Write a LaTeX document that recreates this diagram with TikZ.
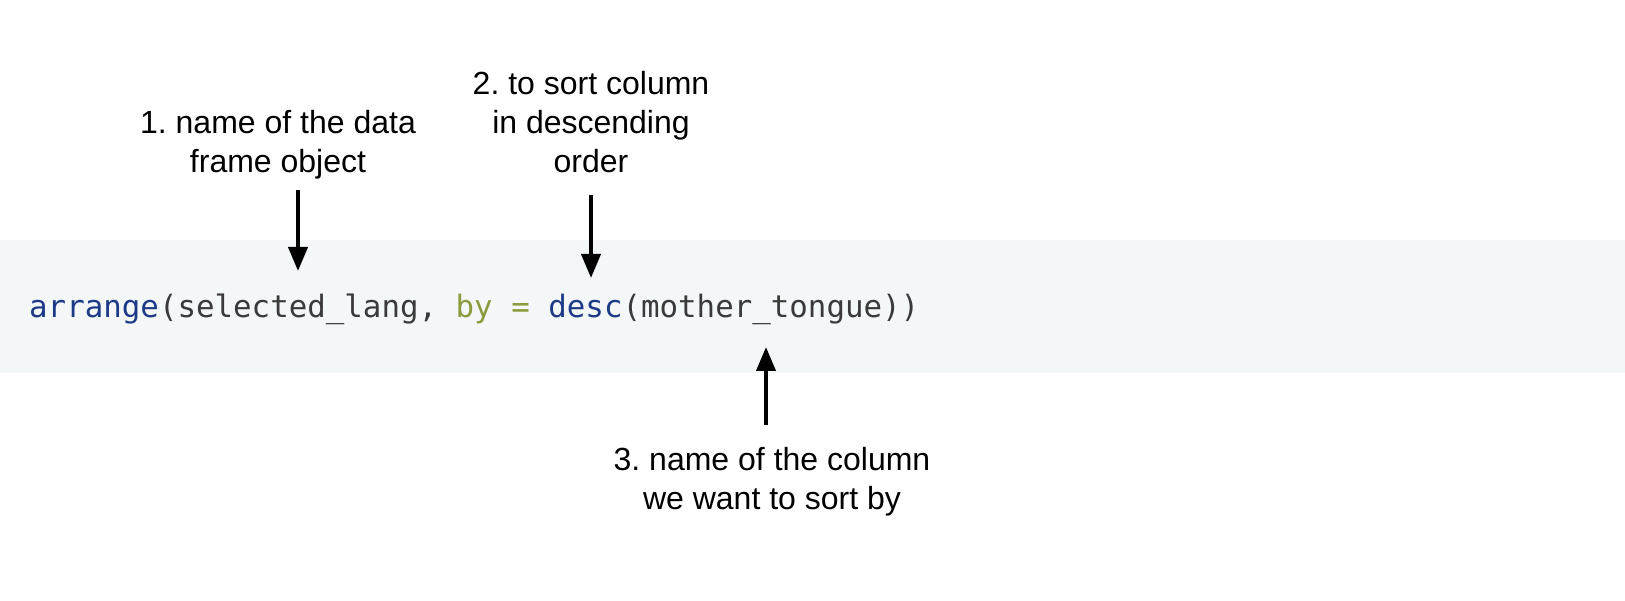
\documentclass[tikz,border=0pt]{standalone}
\usepackage{fontspec}
\setmainfont{Liberation Sans}
\newfontfamily\codefont{DejaVu Sans Mono}
\usetikzlibrary{arrows.meta}
\frenchspacing
\definecolor{bandbg}{HTML}{F4F7F8}
\definecolor{kwblue}{HTML}{1D3A87}
\definecolor{argolive}{HTML}{8A9A3C}
\definecolor{codegray}{HTML}{3A3A3A}
\tikzset{
  lbl/.style={font=\fontsize{32}{39}\selectfont, align=center, inner sep=0pt, text=black},
  pointer/.style={line width=4pt, -{Triangle[length=24pt,width=19pt]}},
  code/.style={font=\codefont\fontsize{30.8}{36}\selectfont, inner sep=0pt, anchor=base west, text=codegray}
}
\begin{document}
\begin{tikzpicture}[x=1pt,y=1pt]
\frenchspacing
\useasboundingbox (0,0) rectangle (1625,601);
\fill[bandbg] (0,361) rectangle (1625,228);
\node[code] (codeline) at (29,283) {\textcolor{kwblue}{arrange}(selected\_lang, \textcolor{argolive}{by} \textcolor{argolive}{=} \textcolor{kwblue}{desc}(mother\_tongue))};
\node[lbl] (l1) at (278,456) {1. name of the data\\frame object};
\node[lbl] (l2) at (591,479) {2. to sort column\\in descending\\order};
\node[lbl] (l3) at (772,119) {3. name of the column\\we want to sort by};
\coordinate (a1s) at (298,411);
\coordinate (a1e) at (298,330);
\coordinate (a2s) at (591,406);
\coordinate (a2e) at (591,323);
\coordinate (a3s) at (766,176);
\coordinate (a3e) at (766,254);
\draw[pointer] (a1s) -- (a1e);
\draw[pointer] (a2s) -- (a2e);
\draw[pointer] (a3s) -- (a3e);
\end{tikzpicture}
\end{document}
